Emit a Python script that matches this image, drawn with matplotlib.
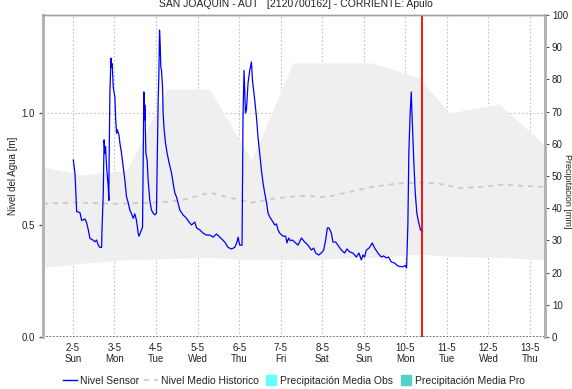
import matplotlib.pyplot as plt
from matplotlib.lines import Line2D

plt.rcParams['font.family'] = ['Liberation Sans', 'DejaVu Sans']

# nivel sensor (dias de mayo, metros)
sensor_dia = [2.01, 2.05, 2.07, 2.09, 2.17, 2.21, 2.29, 2.33, 2.37, 2.41, 2.48, 2.53, 2.57, 2.61, 2.65, 2.69,
              2.70, 2.73, 2.745, 2.75, 2.77, 2.785, 2.81, 2.85, 2.865, 2.87, 2.89, 2.915, 2.93, 2.945, 2.97,
              3.01, 3.03, 3.05, 3.07, 3.11, 3.13, 3.17, 3.21, 3.25, 3.29, 3.33, 3.37, 3.41, 3.45, 3.49, 3.53,
              3.57, 3.59, 3.65, 3.675, 3.69, 3.707, 3.724, 3.731, 3.748, 3.755, 3.786, 3.81, 3.85, 3.89, 3.93,
              3.97, 4.01, 4.026, 4.05, 4.067, 4.084, 4.099, 4.115, 4.132, 4.156, 4.171, 4.195, 4.228, 4.267,
              4.315, 4.373, 4.411, 4.452, 4.493, 4.531, 4.572, 4.651, 4.733, 4.796, 4.853, 4.933, 4.974,
              5.053, 5.132, 5.214, 5.293, 5.375, 5.454, 5.534, 5.654, 5.733, 5.815, 5.894, 5.95, 5.974,
              6.014, 6.07, 6.094, 6.118, 6.135, 6.151, 6.175, 6.214, 6.255, 6.296, 6.32, 6.375, 6.416,
              6.454, 6.495, 6.536, 6.575, 6.615, 6.656, 6.695, 6.736, 6.815, 6.856, 6.897, 6.935, 6.976,
              7.055, 7.12, 7.151, 7.192, 7.233, 7.281, 7.337, 7.416, 7.498, 7.577, 7.656, 7.738, 7.793,
              7.841, 7.913, 7.978, 8.034, 8.082, 8.123, 8.161, 8.219, 8.257, 8.322, 8.377, 8.459, 8.538,
              8.594, 8.659, 8.738, 8.82, 8.882, 8.94, 8.978, 9.019, 9.06, 9.099, 9.139, 9.204, 9.26,
              9.339, 9.421, 9.476, 9.541, 9.596, 9.661, 9.74, 9.82, 9.94, 9.998, 10.029, 10.06, 10.084,
              10.118, 10.142, 10.156, 10.18, 10.204, 10.238, 10.276, 10.317, 10.365, 10.41]
sensor_nivel = [0.79, 0.73, 0.64, 0.56, 0.555, 0.52, 0.527, 0.51, 0.478, 0.44, 0.433, 0.425, 0.433, 0.41, 0.40, 0.40,
                0.48, 0.64, 0.80, 0.88, 0.82, 0.85, 0.76, 0.67, 0.61, 0.77, 1.09, 1.245, 1.205, 1.22, 1.116,
                1.07, 0.97, 0.91, 0.925, 0.90, 0.866, 0.82, 0.76, 0.70, 0.625, 0.60, 0.567, 0.55, 0.53, 0.55, 0.52,
                0.464, 0.45, 0.478, 0.49, 0.79, 1.094, 0.97, 1.036, 0.893, 0.82, 0.79, 0.70, 0.61, 0.567, 0.553,
                0.545, 0.553, 0.745, 1.045, 1.16, 1.37, 1.31, 1.205, 1.19, 1.116, 1.0, 0.925, 0.866, 0.82,
                0.777, 0.732, 0.687, 0.643, 0.625, 0.598, 0.567, 0.545, 0.53, 0.513, 0.50, 0.513, 0.487,
                0.478, 0.464, 0.455, 0.455, 0.446, 0.46, 0.446, 0.424, 0.40, 0.393, 0.40, 0.424, 0.446,
                0.41, 0.41, 1.0, 1.19, 1.09, 1.0, 1.013, 1.134, 1.19, 1.228, 1.147, 1.058, 0.982,
                0.893, 0.82, 0.745, 0.687, 0.643, 0.603, 0.553, 0.536, 0.513, 0.50, 0.505, 0.478, 0.464,
                0.45, 0.45, 0.42, 0.442, 0.43, 0.433, 0.424, 0.41, 0.442, 0.424, 0.41, 0.388, 0.397,
                0.375, 0.366, 0.375, 0.388, 0.433, 0.487, 0.487, 0.464, 0.424, 0.424, 0.41, 0.388, 0.375,
                0.393, 0.38, 0.375, 0.357, 0.375, 0.344, 0.366, 0.357, 0.388, 0.393, 0.40, 0.42, 0.397,
                0.375, 0.357, 0.362, 0.353, 0.357, 0.335, 0.33, 0.317, 0.313, 0.32, 0.308, 0.50, 0.826,
                1.013, 1.094, 1.013, 0.893, 0.777, 0.643, 0.553, 0.513, 0.478, 0.47]

# rango historico (banda gris)
banda_dia = [1.28, 2.24, 3.30, 4.26, 5.29, 6.30, 7.29, 9.21, 10.34, 11.06, 12.26, 13.36]
banda_max = [0.76, 0.723, 0.745, 1.107, 1.107, 0.79, 1.223, 1.223, 1.156, 1.0, 1.04, 0.855]
banda_min = [0.31, 0.33, 0.345, 0.35, 0.355, 0.345, 0.345, 0.355, 0.37, 0.36, 0.355, 0.345]

# nivel medio historico
medio_dia = [1.28, 2.0, 3.0, 4.0, 4.6, 5.3, 5.7, 6.3, 6.9, 7.5, 8.1, 8.6, 9.2, 9.8, 10.4, 10.8,
             11.3, 11.8, 12.3, 12.8, 13.36]
medio_nivel = [0.595, 0.60, 0.595, 0.60, 0.61, 0.645, 0.625, 0.60, 0.62, 0.63, 0.625, 0.645, 0.67,
               0.685, 0.69, 0.685, 0.665, 0.67, 0.68, 0.675, 0.67]

dias = [2, 3, 4, 5, 6, 7, 8, 9, 10, 11, 12, 13]
dias_semana = ['Sun', 'Mon', 'Tue', 'Wed', 'Thu', 'Fri', 'Sat', 'Sun', 'Mon', 'Tue', 'Wed', 'Thu']
ahora = 10.41

fig = plt.figure(figsize=(5.72, 3.89), dpi=100)
ax = fig.add_axes([43 / 572, 1 - 337 / 389, 502 / 572, 322 / 389])
ax2 = ax.twinx()

ax.fill_between(banda_dia, banda_min, banda_max, color='#efefef', lw=0, zorder=1)
ax.plot(medio_dia, medio_nivel, color='#c8c8c8', lw=1.2, ls=(0, (3, 3)), zorder=2)
ax.plot(sensor_dia, sensor_nivel, color='#0000ff', lw=0.9, zorder=4)
ax.axvline(ahora, color='#ff0000', lw=1.3, zorder=5)
ax.axhline(0, color='#555555', lw=1.2, ls=(0, (1, 1)), zorder=5)

ax.set_xlim(1.28, 13.36)
ax.set_ylim(0, 1.4375)
ax.set_xticks(dias)
ax.set_xticklabels([f'{d}-5\n{s}' for d, s in zip(dias, dias_semana)], fontsize=7, color='#222222',
                   linespacing=1.15)
ax.set_yticks([0, 0.5, 1.0])
ax.set_yticklabels(['0.0', '0.5', '1.0'], fontsize=7, color='#222222')
ax.tick_params(axis='x', length=0, pad=4)
ax.tick_params(axis='y', length=3, width=1, color='#555555', pad=3)
ax.grid(True, color='#c0c0c0', ls=(0, (1.5, 2)), lw=0.8)
ax.set_axisbelow(True)
ax.set_ylabel('Nivel del Agua [m]', fontsize=7, color='#222222')
ax.yaxis.set_label_coords(-0.05, 0.5)

ax2.set_ylim(0, 100)
ax2.set_yticks(range(0, 101, 10))
ax2.tick_params(axis='y', labelsize=7, labelcolor='#222222', length=3, color='#555555', pad=2)

for a in (ax, ax2):
    a.spines['bottom'].set_visible(False)
    a.spines['left'].set_color('#b4b4b4')
    a.spines['left'].set_linewidth(2)
    a.spines['right'].set_color('#b4b4b4')
    a.spines['right'].set_linewidth(2)
    a.spines['top'].set_color('#a0a0a0')
    a.spines['top'].set_linewidth(1)

fig.text(296 / 572, 1 - 4 / 389, 'SAN JOAQUIN - AUT   [2120700162] - CORRIENTE: Apulo',
         ha='center', va='center', fontsize=7.5, color='#222222')
fig.text(567.5 / 572, 0.5 + 3 / 389, 'Precipitacion [mm]', rotation=270, ha='center', va='center',
         fontsize=6.5, color='#222222')

handles = [
    Line2D([], [], color='#0000ff', lw=1),
    Line2D([], [], color='#c8c8c8', lw=1.2, ls=(0, (3, 3))),
    Line2D([], [], color='#66ffff', marker='s', ls='none', markersize=7),
    Line2D([], [], color='#4fd1c9', marker='s', ls='none', markersize=7),
]
labels = ['Nivel Sensor', 'Nivel Medio Historico', 'Precipitación Media Obs', 'Precipitación Media Pro']
fig.legend(handles, labels, loc='center', bbox_to_anchor=(294 / 572, 1 - 381 / 389), ncol=4,
           frameon=False, fontsize=7.5, handlelength=1.4, handletextpad=0.2, columnspacing=0.5,
           labelcolor='#222222')

fig.savefig('out.png', dpi=100)
